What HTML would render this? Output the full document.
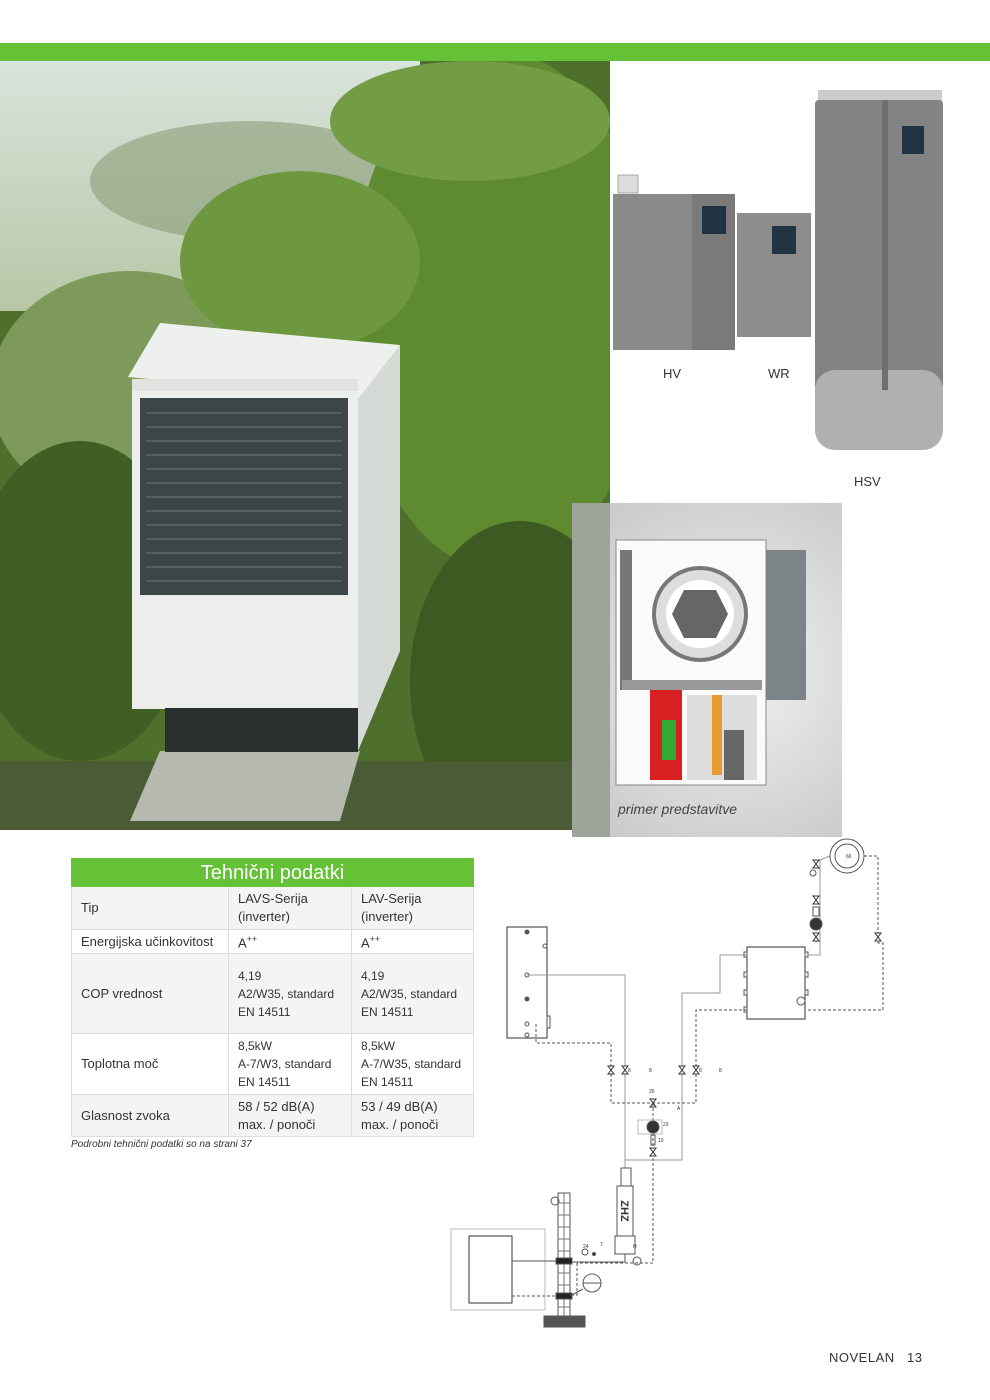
<!DOCTYPE html>
<html><head><meta charset="utf-8"><style>
body{margin:0;width:990px;height:1400px;background:#fff;position:relative;overflow:hidden;font-family:"Liberation Sans",sans-serif;color:#333}
.a{position:absolute}
table{border-collapse:collapse;font-size:13px;color:#333}
td{border:1px solid #ddd;padding:0 9px;vertical-align:middle;line-height:18px}
</style></head><body>
<div class="a" style="left:0;top:43px;width:990px;height:18px;background:#65c236"></div>
<svg class="a" style="left:0;top:61px" width="610" height="769">
<defs><linearGradient id="sk" x1="0" y1="0" x2="0" y2="1"><stop offset="0" stop-color="#d9e4dc"/><stop offset="1" stop-color="#b7c7a6"/></linearGradient></defs>
<rect width="610" height="769" fill="#4f6f2c"/>
<rect width="420" height="250" fill="url(#sk)"/>
<ellipse cx="130" cy="330" rx="140" ry="120" fill="#7d9a5a"/>
<ellipse cx="250" cy="120" rx="160" ry="60" fill="#8a9d78" opacity=".6"/>
<ellipse cx="500" cy="250" rx="150" ry="260" fill="#5e8a30"/>
<ellipse cx="300" cy="200" rx="120" ry="90" fill="#6e9840"/>
<ellipse cx="80" cy="540" rx="110" ry="160" fill="#3f5f24"/>
<ellipse cx="520" cy="620" rx="110" ry="160" fill="#3c5a22"/>
<ellipse cx="470" cy="60" rx="140" ry="60" fill="#739d45"/>
<rect x="0" y="700" width="610" height="69" fill="#4a5b35"/>
<polygon points="160,690 360,690 340,760 130,760" fill="#b5b9ae"/>
<polygon points="128,316 160,262 400,284 364,338" fill="#eef0ee"/>
<polygon points="358,338 400,284 400,590 358,690" fill="#d5d9d5"/>
<rect x="132" y="318" width="226" height="330" fill="#eceeec"/>
<rect x="132" y="318" width="226" height="12" fill="#dfe2df"/>
<rect x="140" y="337" width="208" height="197" fill="#3c4548"/>
<g stroke="#556064" stroke-width="2">
<line x1="146" y1="352" x2="342" y2="352"/><line x1="146" y1="366" x2="342" y2="366"/><line x1="146" y1="380" x2="342" y2="380"/><line x1="146" y1="394" x2="342" y2="394"/><line x1="146" y1="408" x2="342" y2="408"/><line x1="146" y1="422" x2="342" y2="422"/><line x1="146" y1="436" x2="342" y2="436"/><line x1="146" y1="450" x2="342" y2="450"/><line x1="146" y1="464" x2="342" y2="464"/><line x1="146" y1="478" x2="342" y2="478"/><line x1="146" y1="492" x2="342" y2="492"/><line x1="146" y1="506" x2="342" y2="506"/><line x1="146" y1="520" x2="342" y2="520"/></g>
<rect x="165" y="647" width="193" height="44" fill="#2a2e2c"/>
</svg>
<svg class="a" style="left:610px;top:80px" width="340" height="390">
<rect x="8" y="95" width="20" height="18" fill="#ddd" stroke="#aaa"/>
<rect x="3" y="114" width="122" height="156" fill="#8a8a8a"/>
<rect x="82" y="114" width="43" height="156" fill="#7a7a7a"/>
<rect x="92" y="126" width="24" height="28" fill="#234"/>
<rect x="127" y="133" width="74" height="124" fill="#8d8d8d"/>
<rect x="162" y="146" width="24" height="28" fill="#234"/>
<rect x="208" y="10" width="124" height="22" fill="#ccc"/>
<rect x="205" y="20" width="128" height="290" rx="4" fill="#838383"/>
<rect x="205" y="290" width="128" height="80" rx="20" fill="#b0b0b0"/>
<rect x="292" y="46" width="22" height="28" fill="#234"/>
<rect x="272" y="20" width="6" height="290" fill="#6f6f6f"/>
</svg>
<div class="a" style="left:663px;top:366px;font-size:13px">HV</div>
<div class="a" style="left:768px;top:366px;font-size:13px">WR</div>
<div class="a" style="left:854px;top:474px;font-size:13px">HSV</div>
<div class="a" style="left:572px;top:503px;width:270px;height:334px;background:radial-gradient(ellipse at 60% 50%,#f2f2f2,#c4c4c4)"></div>
<div class="a" style="left:572px;top:503px;width:38px;height:334px;background:#9ea49a"></div>
<svg class="a" style="left:612px;top:530px" width="195" height="258">
<rect x="4" y="10" width="150" height="245" fill="#fafafa" stroke="#888"/>
<rect x="154" y="20" width="40" height="150" fill="#7d8488"/>
<rect x="8" y="20" width="12" height="140" fill="#777"/>
<circle cx="88" cy="84" r="46" fill="#ddd" stroke="#777" stroke-width="4"/>
<circle cx="88" cy="84" r="34" fill="#fff"/>
<polygon points="72,60 104,60 116,84 104,108 72,108 60,84" fill="#666"/>
<rect x="10" y="150" width="140" height="10" fill="#999"/>
<rect x="38" y="160" width="32" height="90" fill="#d82020"/>
<rect x="50" y="190" width="14" height="40" fill="#3a3"/>
<rect x="75" y="165" width="70" height="85" fill="#ddd"/>
<rect x="100" y="165" width="10" height="80" fill="#e89a30"/>
<rect x="112" y="200" width="20" height="50" fill="#666"/>
</svg>
<div class="a" style="left:618px;top:801px;font-size:14px;font-style:italic;color:#444">primer predstavitve</div>
<table class="a" style="left:71px;top:858px;width:403px">
<tr><td colspan="3" style="background:#65c236;color:#fff;font-size:20px;text-align:center;height:27px;border-color:#65c236">Tehnični podatki</td></tr>
<tr style="background:#f4f4f4"><td style="width:138px;height:42px">Tip</td><td style="width:104px">LAVS-Serija<br>(inverter)</td><td>LAV-Serija<br>(inverter)</td></tr>
<tr><td style="height:23px">Energijska učinkovitost</td><td>A<sup style="font-size:9px">++</sup></td><td>A<sup style="font-size:9px">++</sup></td></tr>
<tr style="background:#f4f4f4;font-size:12px"><td style="height:79px;font-size:13px">COP vrednost</td><td>4,19<br>A2/W35, standard<br>EN 14511</td><td>4,19<br>A2/W35, standard<br>EN 14511</td></tr>
<tr style="font-size:12px"><td style="height:60px;font-size:13px">Toplotna moč</td><td>8,5kW<br>A-7/W3, standard<br>EN 14511</td><td>8,5kW<br>A-7/W35, standard<br>EN 14511</td></tr>
<tr style="background:#f4f4f4"><td style="height:41px">Glasnost zvoka</td><td>58 / 52 dB(A)<br>max. / ponoči</td><td>53 / 49 dB(A)<br>max. / ponoči</td></tr>
</table>
<div class="a" style="left:71px;top:1139px;font-size:10px;font-style:italic">Podrobni tehnični podatki so na strani 37</div>
<svg class="a" style="left:440px;top:830px" width="460" height="500" font-size="5" fill="none" stroke="#555" stroke-width="1">
<defs><g id="bt"><polygon points="-3,-4 3,-4 -3,4 3,4" fill="#fff" stroke="#333"/></g></defs>
<rect x="67" y="97" width="40" height="111" stroke="#333"/>
<circle cx="87" cy="102" r="2" fill="#555"/><circle cx="87" cy="145" r="2"/><circle cx="87" cy="169" r="2" fill="#555"/><circle cx="87" cy="194" r="2"/><circle cx="87" cy="205" r="2"/>
<circle cx="105" cy="116" r="2"/>
<rect x="107" y="186" width="3" height="12"/>
<polyline points="87,145 185,145 185,338" stroke="#999"/>
<polyline points="185,330 242,330 242,163 280,163 280,125 307,125" stroke="#999"/>
<polyline points="96,194 96,213 171,213 171,273 256,273 256,180 307,180" stroke-dasharray="3,2"/>
<rect x="307" y="117" width="58" height="72" stroke="#333"/>
<rect x="304" y="122" width="3" height="5"/><rect x="304" y="142" width="3" height="5"/><rect x="304" y="160" width="3" height="5"/><rect x="304" y="177" width="3" height="5"/>
<rect x="365" y="122" width="3" height="5"/><rect x="365" y="142" width="3" height="5"/><rect x="365" y="160" width="3" height="5"/>
<circle cx="361" cy="171" r="4"/>
<polyline points="368,125 380,125 380,30 390,26" stroke="#999"/>
<circle cx="407" cy="26" r="17"/><circle cx="407" cy="26" r="12"/>
<polyline points="424,26 438,26 438,113 443,113 443,180 368,180" stroke-dasharray="3,2"/>
<circle cx="373" cy="43" r="3"/>
<use href="#bt" x="376" y="34"/><use href="#bt" x="376" y="70"/><use href="#bt" x="376" y="107"/><use href="#bt" x="438" y="107"/>
<rect x="373" y="77" width="6" height="9"/>
<circle cx="376" cy="94" r="6" fill="#333"/>
<use href="#bt" x="171" y="240"/><use href="#bt" x="185" y="240"/><use href="#bt" x="242" y="240"/><use href="#bt" x="256" y="240"/>
<text x="188" y="242" fill="#333" stroke="none">8</text><text x="209" y="242" fill="#333" stroke="none">8</text><text x="259" y="242" fill="#333" stroke="none">8</text><text x="279" y="242" fill="#333" stroke="none">8</text>
<use href="#bt" x="213" y="273"/>
<text x="209" y="263" fill="#333" stroke="none">26</text><text x="237" y="280" fill="#333" stroke="none">A</text>
<polyline points="213,273 213,433 137,433" stroke-dasharray="3,2"/>
<polyline points="137,433 137,465 130,465" stroke-dasharray="3,2"/>
<rect x="198" y="290" width="24" height="14" stroke="#bbb"/>
<circle cx="213" cy="297" r="6" fill="#333"/>
<rect x="211" y="305" width="4" height="10"/>
<use href="#bt" x="213" y="322"/>
<text x="223" y="296" fill="#333" stroke="none">23</text><text x="218" y="312" fill="#333" stroke="none">10</text>
<polyline points="213,330 242,330" stroke="#999"/>
<rect x="181" y="338" width="10" height="18"/><rect x="177" y="356" width="16" height="50"/><rect x="175" y="406" width="20" height="18"/>
<polyline points="185,424 185,432 130,432"/>
<circle cx="197" cy="431" r="4"/>
<circle cx="145" cy="422" r="3"/><circle cx="154" cy="424" r="1.5" fill="#333"/>
<text x="143" y="418" fill="#333" stroke="none">24</text><text x="160" y="416" fill="#333" stroke="none">7</text><text x="193" y="418" fill="#333" stroke="none">H</text>
<rect x="118" y="363" width="12" height="124"/>
<g stroke="#777"><line x1="118" y1="373" x2="130" y2="373"/><line x1="118" y1="385" x2="130" y2="385"/><line x1="118" y1="397" x2="130" y2="397"/><line x1="118" y1="409" x2="130" y2="409"/><line x1="118" y1="421" x2="130" y2="421"/><line x1="118" y1="443" x2="130" y2="443"/><line x1="118" y1="455" x2="130" y2="455"/><line x1="118" y1="477" x2="130" y2="477"/></g>
<line x1="124" y1="363" x2="124" y2="487" stroke="#777"/>
<circle cx="115" cy="371" r="4"/>
<rect x="104" y="486" width="41" height="11" fill="#555"/>
<rect x="11" y="399" width="94" height="81" stroke="#bbb"/>
<rect x="29" y="406" width="43" height="67" stroke="#333"/>
<line x1="72" y1="431" x2="118" y2="431"/><line x1="72" y1="466" x2="118" y2="466" stroke-dasharray="3,2"/>
<rect x="116" y="428" width="16" height="6" fill="#222"/><rect x="116" y="463" width="16" height="6" fill="#222"/>
<circle cx="152" cy="453" r="9"/><line x1="143" y1="453" x2="161" y2="453"/>
<line x1="130" y1="466" x2="143" y2="459"/>
<text x="406" y="28" fill="#333" stroke="none">66</text>
<text x="185" y="385" text-anchor="middle" fill="#333" stroke="none" font-size="11" font-weight="bold" transform="rotate(90 185 381)">ZHZ</text>
</svg>
<div class="a" style="left:829px;top:1350px;font-size:13px;letter-spacing:.5px">NOVELAN&nbsp;&nbsp;&nbsp;13</div>
</body></html>
